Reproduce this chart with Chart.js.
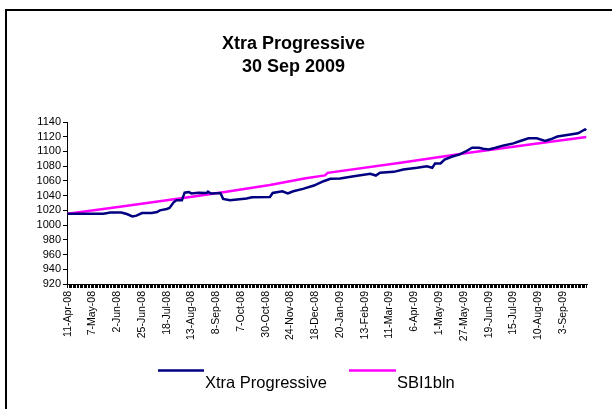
<!DOCTYPE html>
<html>
<head>
<meta charset="utf-8">
<script src="https://cdn.jsdelivr.net/npm/chart.js@4/dist/chart.umd.min.js"></script>
<style>
  html, body { margin: 0; padding: 0; background: #fff; }
  #wrap { position: relative; width: 612px; height: 409px; overflow: hidden; }
  #frame { position: absolute; left: 5px; top: 9px; width: 640px; height: 440px; border: 2px solid #000; box-sizing: border-box; }
  canvas { position: absolute; left: 0; top: 0; }
</style>
</head>
<body>
<div id="wrap">
  <div id="frame"></div>
  <canvas id="c" width="612" height="409"></canvas>
</div>
<script>
// Tick labels shown every 18 trading days (index 0, 18, 36, ...)
const tickLabels = ['11-Apr-08','7-May-08','2-Jun-08','25-Jun-08','18-Jul-08','13-Aug-08','8-Sep-08',
  '7-Oct-08','30-Oct-08','24-Nov-08','18-Dec-08','20-Jan-09','13-Feb-09','11-Mar-09','6-Apr-09',
  '1-May-09','27-May-09','19-Jun-09','15-Jul-09','10-Aug-09','3-Sep-09'];
const labelEvery = 18;
const numDays = 378;

// Xtra Progressive: trading-day index and value
const xtraIdx  = [0,2,26,31,39,43,47,50,54,61,65,67,72,74,77,79,83,85,88,90,95,101,102,104,111,113,118,130,134,147,149,156,160,164,171,179,186,191,198,208,220,224,227,237,244,254,261,265,267,271,274,279,285,289,294,299,302,306,311,317,324,329,335,341,347,351,356,363,371,374,376,377];
const xtraVals = [1015.3,1015.5,1015.5,1017,1017,1015,1011.8,1012.8,1016.4,1016.4,1017.8,1020,1021.8,1023.2,1030.9,1033.6,1033.6,1044,1044.9,1043,1044,1043.5,1045.5,1043,1043.5,1035.6,1033.7,1036,1037.8,1038.2,1043.6,1046,1043,1046,1049.2,1053.7,1059.6,1062.8,1063.2,1066.4,1069.6,1067.3,1071,1072.3,1075.5,1077.8,1080,1077.8,1083.7,1083.7,1089,1092.8,1096,1099.6,1105,1105,1103.7,1102.8,1105,1108.2,1111,1114.2,1117.8,1117.8,1114.2,1116.5,1120.2,1122.4,1124.6,1127.8,1130,1128.7];

// SBI1bln benchmark
const sbiIdx  = [0,38,89,113,147,173,187,189,242,289,336,377];
const sbiVals = [1015.3,1025,1038,1044.5,1054.5,1063.5,1067.5,1071,1084.8,1097.5,1109.5,1119.7];

const yMin = 920, yMax = 1140, yStep = 20;

const FONT = "'Liberation Sans', Arial, Helvetica, sans-serif";
const toXY = (idx, vals) => idx.map((x, i) => ({ x: x, y: vals[i] }));

const legendPlugin = {
  id: 'xlLegend',
  afterDraw(chart) {
    const ctx = chart.ctx;
    ctx.save();
    const items = [
      { text: 'Xtra Progressive', color: '#000080', x1: 158, x2: 204, tx: 205 },
      { text: 'SBI1bln', color: '#FF00FF', x1: 349, x2: 396, tx: 397 }
    ];
    items.forEach(it => {
      ctx.strokeStyle = it.color;
      ctx.lineWidth = 2.5;
      ctx.beginPath();
      ctx.moveTo(it.x1, 370.5);
      ctx.lineTo(it.x2, 370.5);
      ctx.stroke();
      ctx.fillStyle = '#000';
      ctx.font = '16.5px ' + FONT;
      ctx.textBaseline = 'alphabetic';
      ctx.textAlign = 'left';
      ctx.fillText(it.text, it.tx, 388);
    });
    ctx.restore();
  }
};

new Chart(document.getElementById('c'), {
  type: 'line',
  data: {
    datasets: [
      { label: 'Xtra Progressive', data: toXY(xtraIdx, xtraVals), borderColor: '#000080', borderWidth: 2.5, pointRadius: 0, tension: 0, fill: false },
      { label: 'SBI1bln', data: toXY(sbiIdx, sbiVals), borderColor: '#FF00FF', borderWidth: 2.5, pointRadius: 0, tension: 0, fill: false }
    ]
  },
  options: {
    responsive: false,
    animation: false,
    events: [],
    layout: { padding: { top: 33, left: 0, right: 25, bottom: 0 } },
    plugins: {
      legend: { display: false },
      tooltip: { enabled: false },
      title: {
        display: true,
        text: ['Xtra Progressive', '30 Sep 2009'],
        color: '#000',
        font: { family: FONT, size: 18, weight: 'bold', lineHeight: 23 / 18 },
        padding: { top: 0, bottom: 43 }
      }
    },
    scales: {
      x: {
        type: 'linear',
        min: -0.5,
        max: numDays - 0.5,
        afterBuildTicks(scale) {
          const t = [];
          for (let i = 0; i < numDays; i++) t.push({ value: i });
          scale.ticks = t;
        },
        afterFit(scale) { scale.height = 125; },
        ticks: {
          autoSkip: false,
          minRotation: 90,
          maxRotation: 90,
          padding: 3,
          color: '#000',
          font: { family: FONT, size: 10.5 },
          callback(value) {
            return (value % labelEvery === 0) ? (tickLabels[value / labelEvery] || '') : '';
          }
        },
        grid: { drawOnChartArea: false, drawTicks: true, tickLength: 4, color: '#000', lineWidth: 1 },
        border: { display: true, color: '#000', width: 1 }
      },
      y: {
        min: yMin,
        max: yMax,
        afterFit(scale) { scale.width = 67; },
        ticks: {
          stepSize: yStep,
          autoSkip: false,
          padding: 2,
          color: '#000',
          font: { family: FONT, size: 11 },
          callback(value) { return String(value); }
        },
        grid: { drawOnChartArea: false, drawTicks: true, tickLength: 4, color: '#000', lineWidth: 1 },
        border: { display: true, color: '#000', width: 1 }
      }
    }
  },
  plugins: [legendPlugin]
});
</script>
</body>
</html>
